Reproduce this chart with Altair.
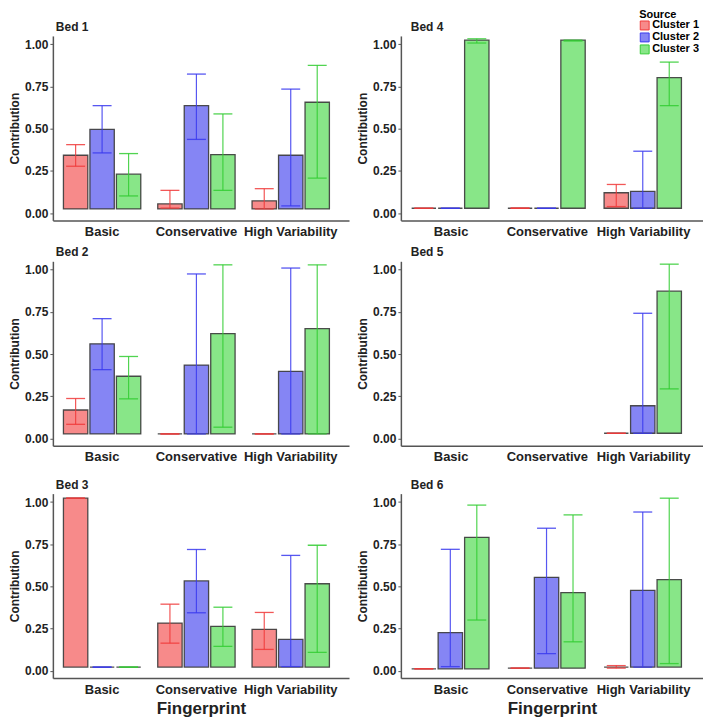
import altair as alt
import pandas as pd

fingerprints = ["Basic", "Conservative", "High Variability"]
sources = ["Cluster 1", "Cluster 2", "Cluster 3"]

# values ordered fingerprint-major, source-minor; None = not estimated
bed1_top = [0.343, 0.496, 0.231, 0.055, 0.637, 0.347, 0.073, 0.343, 0.657]
bed1_lo = [0.278, 0.357, 0.102, 0.030, 0.437, 0.135, 0.025, 0.043, 0.208]
bed1_hi = [0.406, 0.637, 0.353, 0.135, 0.824, 0.588, 0.145, 0.735, 0.876]
bed1_base = [0.025, 0.025, 0.025]

bed2_top = [0.169, 0.561, 0.369, 0.027, 0.435, 0.622, 0.027, 0.398, 0.651]
bed2_lo = [0.084, 0.408, 0.235, 0.027, 0.027, 0.067, 0.027, 0.027, 0.027]
bed2_hi = [0.237, 0.710, 0.486, 0.027, 0.975, 1.029, 0.027, 1.010, 1.029]
bed2_base = [0.027, 0.027, 0.027]

bed3_top = [1.023, 0.022, 0.022, 0.283, 0.533, 0.264, 0.246, 0.186, 0.516]
bed3_lo = [1.023, 0.022, 0.022, 0.164, 0.344, 0.145, 0.127, 0.025, 0.109]
bed3_hi = [1.023, 0.022, 0.022, 0.395, 0.719, 0.377, 0.346, 0.684, 0.744]
bed3_base = [0.022, 0.022, 0.022]

bed4_top = [0.029, 0.029, 1.025, 0.029, 0.029, 1.025, 0.121, 0.129, 0.803]
bed4_lo = [0.029, 0.029, 1.008, 0.029, 0.029, 1.020, 0.039, 0.029, 0.637]
bed4_hi = [0.029, 0.029, 1.033, 0.029, 0.029, 1.025, 0.170, 0.367, 0.895]
bed4_base = [0.029, 0.029, 0.029]

bed5_top = [None, None, None, None, None, None, 0.031, 0.194, 0.873]
bed5_lo = [None, None, None, None, None, None, 0.031, 0.031, 0.294]
bed5_hi = [None, None, None, None, None, None, 0.031, 0.742, 1.033]
bed5_base = [0.031, 0.031, 0.031]

bed6_top = [0.012, 0.227, 0.791, 0.016, 0.554, 0.464, 0.022, 0.477, 0.540]
bed6_lo = [0.012, 0.025, 0.301, 0.016, 0.102, 0.172, 0.016, 0.022, 0.043]
bed6_hi = [0.012, 0.720, 0.982, 0.016, 0.845, 0.924, 0.031, 0.941, 1.023]
bed6_base = [0.012, 0.016, 0.022]

beds = {
    "Bed 1": (bed1_top, bed1_lo, bed1_hi, bed1_base),
    "Bed 2": (bed2_top, bed2_lo, bed2_hi, bed2_base),
    "Bed 3": (bed3_top, bed3_lo, bed3_hi, bed3_base),
    "Bed 4": (bed4_top, bed4_lo, bed4_hi, bed4_base),
    "Bed 5": (bed5_top, bed5_lo, bed5_hi, bed5_base),
    "Bed 6": (bed6_top, bed6_lo, bed6_hi, bed6_base),
}

fill_colors = ["#F78A8A", "#8585F4", "#88E688"]
err_colors = ["#F03A3A", "#3A3AEE", "#33CC33"]
FONT = "Liberation Sans"


def make_df(name):
    top, lo, hi, base = beds[name]
    rows = []
    for i, fp in enumerate(fingerprints):
        for j, src in enumerate(sources):
            k = i * 3 + j
            if top[k] is None:
                continue
            rows.append(dict(fp=fp, src=src, top=top[k], lo=lo[k], hi=hi[k], base=base[i]))
    return pd.DataFrame(rows)


def panel(name, bottom=False, right=False):
    df = make_df(name)
    x = alt.X(
        "fp:N",
        scale=alt.Scale(domain=fingerprints, paddingInner=0.18, paddingOuter=0.16, align=0.35),
        axis=alt.Axis(
            title="Fingerprint" if bottom else None,
            labelAngle=0,
            labelFontSize=13,
            labelPadding=5,
            ticks=False,
            titleFontSize=17,
            titlePadding=5,
        ),
    )
    xo = alt.XOffset("src:N", scale=alt.Scale(domain=sources, paddingInner=0.08, paddingOuter=0))
    yscale = alt.Scale(domain=[-0.043, 1.05], nice=False, zero=False)
    y = alt.Y(
        "top:Q",
        scale=yscale,
        axis=alt.Axis(
            title="Contribution",
            values=[0, 0.25, 0.5, 0.75, 1.0],
            format=".2f",
            labelFontSize=12,
            tickSize=3,
            labelPadding=2,
            titleFontSize=12,
            titlePadding=3,
        ),
    )
    fill = alt.Fill(
        "src:N",
        scale=alt.Scale(domain=sources, range=fill_colors),
        legend=alt.Legend(
            title="Source",
            orient="none",
            legendX=588,
            legendY=-27,
            symbolType="square",
            symbolSize=80,
            symbolStrokeColor="#333",
            symbolStrokeWidth=1,
            symbolOpacity=1,
            labelFontSize=11,
            labelFont=FONT,
            labelFontWeight="bold",
            titleFontSize=11,
            titleFont=FONT,
            titleFontWeight="bold",
            titlePadding=0,
            rowPadding=0,
            clipHeight=11,
            labelOffset=2,
            padding=0,
        ),
    )
    stroke = alt.Stroke("src:N", scale=alt.Scale(domain=sources, range=err_colors), legend=None)
    cap_color = alt.Color("src:N", scale=alt.Scale(domain=sources, range=err_colors), legend=None)

    base = alt.Chart(df)
    bars = base.mark_bar(stroke="#3a3a3a", strokeWidth=1.3, strokeOpacity=0.9).encode(
        x=x, xOffset=xo, y=y, y2="base:Q", fill=fill
    )
    rules = base.mark_rule(strokeWidth=1.2, opacity=0.85).encode(
        x=x, xOffset=xo, y=alt.Y("lo:Q", scale=yscale), y2="hi:Q", stroke=stroke
    )
    cap_lo = base.mark_tick(orient="horizontal", size=19, thickness=1.3, opacity=0.85).encode(
        x=x, xOffset=xo, y=alt.Y("lo:Q", scale=yscale), color=cap_color
    )
    cap_hi = base.mark_tick(orient="horizontal", size=19, thickness=1.3, opacity=0.85).encode(
        x=x, xOffset=xo, y=alt.Y("hi:Q", scale=yscale), color=cap_color
    )
    return alt.layer(bars, rules, cap_lo, cap_hi).properties(
        width=303 if right else 297,
        height=185,
        title=alt.TitleParams(name, anchor="start", frame="group", dx=10 if right else 3,
                              fontSize=12, font=FONT, fontWeight="bold", offset=2),
    )


row1 = alt.hconcat(panel("Bed 1"), panel("Bed 4", right=True), spacing=7)
row2 = alt.hconcat(panel("Bed 2"), panel("Bed 5", right=True), spacing=7)
row3 = alt.hconcat(panel("Bed 3", True), panel("Bed 6", True, right=True), spacing=7)

chart = (
    alt.vconcat(alt.vconcat(row1, row2, spacing=8), row3, spacing=15)
    .properties(padding=0)
    .configure_view(stroke=None)
    .configure_axis(
        grid=False,
        domainColor="#555",
        domainWidth=1.5,
        tickColor="#555",
        labelFont=FONT,
        labelFontWeight="bold",
        labelColor="#222",
        titleFont=FONT,
        titleFontWeight="bold",
        titleColor="#222",
    )
    .configure_title(color="#222")
)

chart.save("out.html", embed_options={"renderer": "svg", "actions": False})
